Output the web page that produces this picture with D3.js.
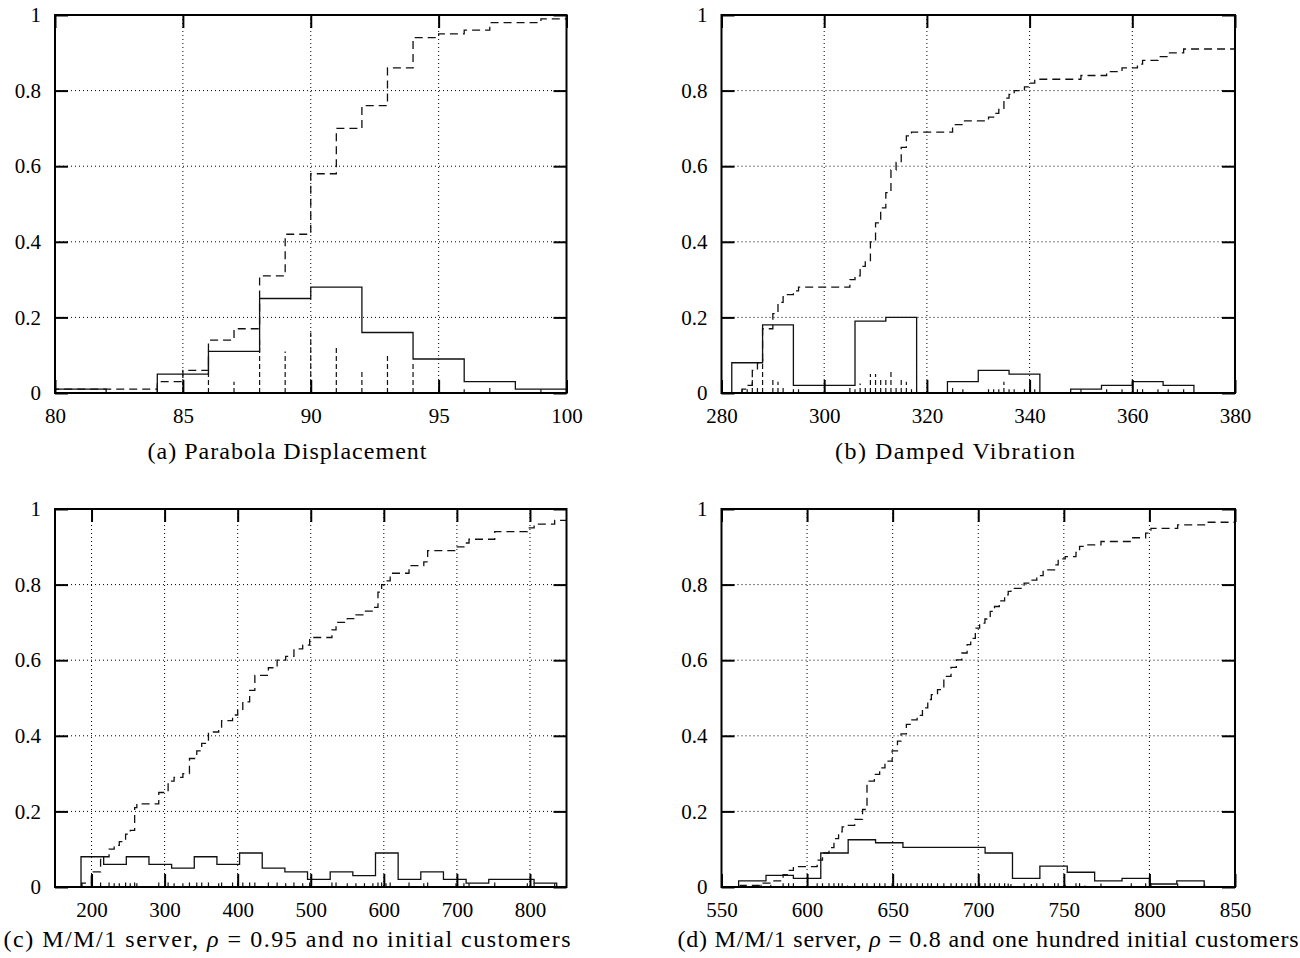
<!DOCTYPE html>
<html>
<head>
<meta charset="utf-8">
<script src="https://cdn.jsdelivr.net/npm/d3@7"></script>
<style>
  body { margin: 0; background: #fff; }
  svg { display: block; }
  .tick text { font-family: "Liberation Serif", "Times New Roman", serif; font-size: 21px; fill: #000; }
  .caption { font-family: "Liberation Serif", "Times New Roman", serif; font-size: 24px; fill: #000; }
</style>
</head>
<body>
<svg id="fig" width="1300" height="958"></svg>
<script>
// ---------- (a) Parabola Displacement ----------
const xTicksA = [80, 85, 90, 95, 100];
const histEdgesA = [80, 82, 84, 86, 88, 90, 92, 94, 96, 98, 100];
const histValsA  = [0.01, 0, 0.05, 0.11, 0.25, 0.28, 0.16, 0.09, 0.03, 0.01];
const cdfXA = [80, 84, 85, 86, 87, 88, 89, 90, 91, 92, 93, 94, 95, 96, 97, 99];
const cdfYA = [0.01, 0.03, 0.06, 0.14, 0.17, 0.31, 0.42, 0.58, 0.70, 0.76, 0.86, 0.94, 0.95, 0.96, 0.98, 0.99];

// ---------- (b) Damped Vibration ----------
const xTicksB = [280, 300, 320, 340, 360, 380];
const histEdgesB = [282, 288, 294, 300, 306, 312, 318, 324, 330, 336, 342, 348, 354, 360, 366, 372];
const histValsB  = [0.08, 0.18, 0.02, 0.02, 0.19, 0.20, 0, 0.03, 0.06, 0.05, 0, 0.01, 0.02, 0.03, 0.02];
const cdfXB = [284, 285, 286, 287, 288, 290, 291, 292, 294, 295, 305, 306, 307, 308, 309, 310, 311, 312,
               313, 314, 315, 316, 317, 325, 327, 332, 333, 334, 335, 336, 337, 339, 340, 341, 350,
               355, 358, 361, 362, 365, 367, 370];
const cdfYB = [0.01, 0.02, 0.06, 0.08, 0.17, 0.21, 0.24, 0.26, 0.27, 0.28, 0.30, 0.31, 0.335, 0.35, 0.40,
               0.45, 0.49, 0.53, 0.59, 0.61, 0.65, 0.68, 0.69, 0.71, 0.72, 0.73, 0.74, 0.75, 0.78, 0.79,
               0.80, 0.81, 0.82, 0.83, 0.84, 0.85, 0.86, 0.87, 0.88, 0.89, 0.90, 0.91];

// ---------- (c) M/M/1, rho = 0.95, empty start ----------
const xTicksC = [200, 300, 400, 500, 600, 700, 800];
const histEdgesC = [185.6, 216.6, 247.6, 278.6, 309.6, 340.6, 371.6, 402.6, 433.6, 464.6, 495.6,
                    526.6, 557.6, 588.6, 619.6, 650.6, 681.6, 712.6, 743.6, 774.6, 805.6, 836.6];
const histValsC  = [0.08, 0.06, 0.08, 0.06, 0.05, 0.08, 0.06, 0.09, 0.05, 0.04, 0.02,
                    0.04, 0.03, 0.09, 0.02, 0.04, 0.02, 0.01, 0.02, 0.02, 0.01];
const cdfXC = [186.6, 199.7, 212.4, 224, 231, 238, 246.6, 253, 259, 262, 292, 304.8, 313, 325, 334, 344,
               350.8, 360, 374, 378, 393, 400, 407, 416.4, 423.5, 442, 454, 465.7, 477, 489, 498.5,
               529, 534.6, 550, 561.8, 573.5, 585, 592, 597, 603, 608.7, 634.5, 654.7, 660, 698.8,
               709.6, 716.6, 751.8, 796.4, 805.7, 833.8];
const cdfYC = [0.01, 0.04, 0.08, 0.10, 0.11, 0.12, 0.14, 0.15, 0.21, 0.22, 0.25, 0.28, 0.29, 0.30, 0.34,
               0.36, 0.38, 0.41, 0.42, 0.44, 0.455, 0.47, 0.49, 0.52, 0.56, 0.58, 0.60, 0.61, 0.63,
               0.64, 0.66, 0.68, 0.70, 0.71, 0.72, 0.73, 0.74, 0.78, 0.80, 0.81, 0.83, 0.85, 0.86,
               0.89, 0.90, 0.91, 0.92, 0.94, 0.95, 0.96, 0.97];

// ---------- (d) M/M/1, rho = 0.8, one hundred initial customers ----------
const xTicksD = [550, 600, 650, 700, 750, 800, 850];
const histEdgesD = [560, 576, 592, 608, 624, 640, 656, 672, 688, 704, 720, 736, 752, 768, 784, 800, 816, 832];
const histValsD  = [0.016, 0.031, 0.023, 0.09, 0.125, 0.117, 0.105, 0.105, 0.105, 0.09, 0.023,
                    0.055, 0.039, 0.016, 0.023, 0.008, 0.016];
const cdfXD = [561, 573.1, 578.8, 586, 589.2, 592, 605.9, 609, 612.8, 615.7, 618.4, 620.5, 623.6, 627.8,
               632.4, 635, 639.3, 642.4, 645.5, 649.7, 652.8, 654.9, 658, 660.7, 664.3, 667.4, 670.5,
               672.6, 676.2, 679.9, 684.1, 687.2, 690.4, 693.5, 695.6, 698.3, 700.8, 703.9, 707, 709.5,
               712.3, 715.4, 717.5, 719.1, 726.8, 731, 734.2, 737.9, 744.6, 746.7, 750.8, 757.1,
               759.2, 762.3, 771.7, 789.4, 797.8, 800.9, 816.5, 832.2];
const cdfYD = [0.004, 0.01, 0.016, 0.033, 0.044, 0.054, 0.071, 0.09, 0.104, 0.128, 0.146, 0.159, 0.163,
               0.179, 0.205, 0.28, 0.298, 0.315, 0.333, 0.36, 0.386, 0.405, 0.43, 0.442, 0.454, 0.474,
               0.496, 0.509, 0.522, 0.557, 0.581, 0.601, 0.619, 0.641, 0.658, 0.685, 0.698, 0.709,
               0.729, 0.742, 0.757, 0.773, 0.782, 0.790, 0.804, 0.812, 0.824, 0.839, 0.852, 0.868,
               0.874, 0.885, 0.901, 0.905, 0.914, 0.924, 0.936, 0.949, 0.958, 0.965];

const yTicks = [0, 0.2, 0.4, 0.6, 0.8, 1];

// Panel layout: frame box [left, right, top, bottom], caption centre and width
const panels = [
  { box: [55, 566.5, 15, 393], dom: [80, 100], ticks: xTicksA,
    edges: histEdgesA, vals: histValsA, cx: cdfXA, cy: cdfYA, marks: "pmf",
    cap: { x: 287, y: 459, w: 279, parts: [["(a) Parabola Displacement", false]] } },
  { box: [721.5, 1235, 15, 393], dom: [280, 380], ticks: xTicksB,
    edges: histEdgesB, vals: histValsB, cx: cdfXB, cy: cdfYB, marks: "pmf",
    cap: { x: 955, y: 459, w: 240, parts: [["(b) Damped Vibration", false]] } },
  { box: [55, 566.5, 509, 887], dom: [150, 850], ticks: xTicksC,
    edges: histEdgesC, vals: histValsC, cx: cdfXC, cy: cdfYC, marks: 0.012,
    cap: { x: 287, y: 947, w: 567, parts: [["(c) M/M/1 server, ", false], ["\u03C1", true], [" = 0.95 and no initial customers", false]] } },
  { box: [721.5, 1235, 509, 887], dom: [550, 850], ticks: xTicksD,
    edges: histEdgesD, vals: histValsD, cx: cdfXD, cy: cdfYD, marks: 0.01,
    cap: { x: 988, y: 947, w: 621, parts: [["(d) M/M/1 server, ", false], ["\u03C1", true], [" = 0.8 and one hundred initial customers", false]] } }
];

const svg = d3.select("#fig");
const TICK = 13;
const DASH = "8,5";

function drawPanel(p) {
  const [L, R, T, B] = p.box;
  const x = d3.scaleLinear().domain(p.dom).range([L, R]);
  const y = d3.scaleLinear().domain([0, 1]).range([B, T]);
  const g = svg.append("g");

  // dotted grid at interior major ticks
  const gx = p.ticks.filter(t => t > p.dom[0] && t < p.dom[1]);
  const gy = yTicks.filter(t => t > 0 && t < 1);
  g.append("g").selectAll("line").data(gx).join("line")
    .attr("x1", d => x(d)).attr("x2", d => x(d)).attr("y1", T).attr("y2", B)
    .attr("stroke", "#000").attr("stroke-width", 1).attr("stroke-dasharray", "1,3");
  g.append("g").selectAll("line").data(gy).join("line")
    .attr("x1", L).attr("x2", R).attr("y1", d => y(d)).attr("y2", d => y(d))
    .attr("stroke", "#000").attr("stroke-width", 1).attr("stroke-dasharray", "1,3");

  // histogram outline (solid steps)
  const hpts = [[p.edges[0], 0]].concat(p.edges.map((e, i) => [e, i < p.vals.length ? p.vals[i] : 0]));
  const step = d3.line().x(d => x(d[0])).y(d => y(d[1])).curve(d3.curveStepAfter);
  g.append("path").attr("d", step(hpts))
    .attr("fill", "none").attr("stroke", "#111").attr("stroke-width", 1.3);

  // empirical CDF (dashed steps)
  const cpts = [[p.cx[0], 0]].concat(p.cx.map((v, i) => [v, p.cy[i]]), [[p.dom[1], p.cy[p.cy.length - 1]]]);
  g.append("path").attr("d", step(cpts))
    .attr("fill", "none").attr("stroke", "#111").attr("stroke-width", 1.3)
    .attr("stroke-dasharray", DASH);

  // sample impulses: probability mass at each CDF jump, or a short rug mark
  const imp = p.cx.map((v, i) => {
    const jump = p.cy[i] - (i > 0 ? p.cy[i - 1] : 0);
    return [v, p.marks === "pmf" ? jump : Math.min(jump, p.marks)];
  });
  g.append("g").selectAll("line").data(imp).join("line")
    .attr("x1", d => x(d[0])).attr("x2", d => x(d[0]))
    .attr("y1", y(0)).attr("y2", d => y(d[1]))
    .attr("stroke", "#111").attr("stroke-width", 1.2).attr("stroke-dasharray", "5,3");

  // inward major ticks on all four sides
  const styleAxis = sel => {
    sel.select(".domain").remove();
    sel.selectAll(".tick line").attr("stroke", "#000").attr("stroke-width", 2);
  };
  g.append("g").attr("transform", `translate(0,${B})`)
    .call(d3.axisBottom(x).tickValues(p.ticks).tickSize(-TICK).tickPadding(15).tickFormat(d3.format("d")))
    .call(styleAxis);
  g.append("g").attr("transform", `translate(0,${T})`)
    .call(d3.axisTop(x).tickValues(p.ticks).tickSize(-TICK).tickFormat(""))
    .call(styleAxis);
  g.append("g").attr("transform", `translate(${L},0)`)
    .call(d3.axisLeft(y).tickValues(yTicks).tickSize(-TICK).tickPadding(14).tickFormat(d => d3.format("")(d)))
    .call(styleAxis);
  g.append("g").attr("transform", `translate(${R},0)`)
    .call(d3.axisRight(y).tickValues(yTicks).tickSize(-TICK).tickFormat(""))
    .call(styleAxis);
  g.selectAll(".tick text").attr("fill", "#000");

  // frame
  g.append("rect").attr("x", L).attr("y", T).attr("width", R - L).attr("height", B - T)
    .attr("fill", "none").attr("stroke", "#000").attr("stroke-width", 2);

  // caption
  const t = svg.append("text").attr("class", "caption")
    .attr("x", p.cap.x).attr("y", p.cap.y).attr("text-anchor", "middle")
    .attr("textLength", p.cap.w).attr("lengthAdjust", "spacing");
  p.cap.parts.forEach(([s, it]) => {
    t.append("tspan").text(s).attr("font-style", it ? "italic" : null);
  });
}

panels.forEach(drawPanel);
</script>
</body>
</html>
